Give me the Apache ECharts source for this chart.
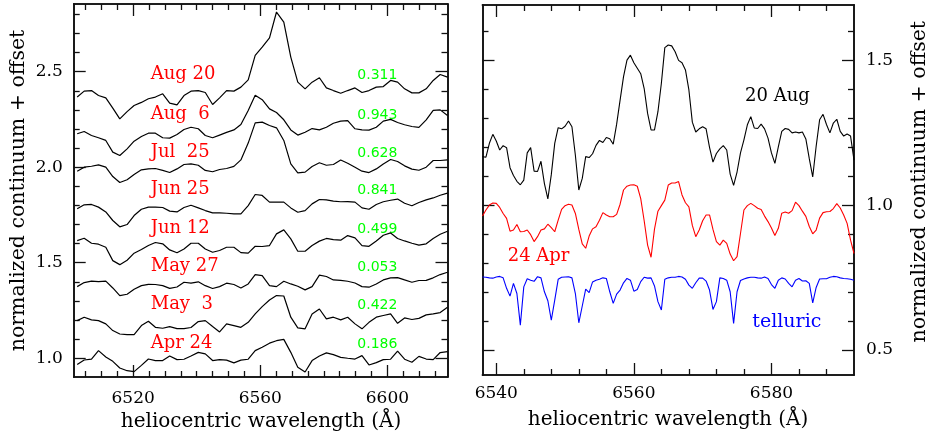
<!DOCTYPE html>
<html>
<head>
<meta charset="utf-8">
<script src="https://cdn.jsdelivr.net/npm/echarts@6/dist/echarts.min.js"></script>
<style>
html, body { margin: 0; padding: 0; background: #fff; }
#chart { width: 928px; height: 438px; }
</style>
</head>
<body>
<div id="chart"></div>
<script>
// ---- Left panel: H-alpha profiles by date (continuum + offset) ----
const leftWave = [
  6502.4, 6504.6, 6506.9, 6509.1, 6511.4, 6513.6, 6515.8, 6518.1, 6520.3, 6522.6,
  6524.8, 6527.0, 6529.3, 6531.5, 6533.8, 6536.0, 6538.2, 6540.5, 6542.7, 6545.0,
  6547.2, 6549.4, 6551.7, 6553.9, 6556.2, 6558.4, 6560.6, 6562.9, 6565.1, 6567.4,
  6569.6, 6571.8, 6574.1, 6576.3, 6578.6, 6580.8, 6583.0, 6585.3, 6587.5, 6589.8,
  6592.0, 6594.2, 6596.5, 6598.7, 6601.0, 6603.2, 6605.4, 6607.7, 6609.9, 6612.2,
  6614.4, 6616.6, 6618.9
];
const aug20 = [
  2.367, 2.398, 2.401, 2.375, 2.363, 2.309, 2.253, 2.291, 2.323, 2.339,
  2.358, 2.367, 2.384, 2.335, 2.326, 2.375, 2.398, 2.401, 2.391, 2.328,
  2.363, 2.401, 2.398, 2.419, 2.457, 2.585, 2.628, 2.677, 2.812, 2.759,
  2.576, 2.445, 2.410, 2.445, 2.468, 2.415, 2.401, 2.387, 2.401, 2.415,
  2.391, 2.401, 2.419, 2.422, 2.454, 2.445, 2.410, 2.389, 2.389, 2.410,
  2.454, 2.485, 2.471
];
const aug6 = [
  2.175, 2.187, 2.166, 2.154, 2.140, 2.079, 2.061, 2.096, 2.136, 2.161,
  2.178, 2.178, 2.154, 2.152, 2.171, 2.197, 2.209, 2.201, 2.166, 2.154,
  2.168, 2.182, 2.195, 2.223, 2.297, 2.377, 2.353, 2.305, 2.286, 2.248,
  2.195, 2.168, 2.183, 2.202, 2.195, 2.209, 2.230, 2.241, 2.244, 2.201,
  2.195, 2.194, 2.209, 2.241, 2.250, 2.234, 2.222, 2.213, 2.208, 2.248,
  2.297, 2.300, 2.271
];
const jul25 = [
  1.979, 2.000, 2.005, 2.012, 2.000, 1.951, 1.920, 1.934, 1.962, 1.986,
  1.991, 1.993, 1.983, 1.972, 1.991, 2.014, 2.017, 2.010, 1.983, 1.976,
  1.988, 1.993, 2.004, 2.038, 2.126, 2.232, 2.236, 2.218, 2.206, 2.140,
  2.017, 1.970, 1.974, 2.004, 2.023, 2.010, 2.014, 2.038, 2.021, 2.000,
  1.979, 1.972, 1.991, 2.017, 2.040, 2.030, 2.007, 1.990, 1.984, 2.000,
  2.035, 2.035, 2.038
];
const jun25 = [
  1.782, 1.803, 1.805, 1.791, 1.766, 1.721, 1.688, 1.700, 1.747, 1.780,
  1.791, 1.791, 1.789, 1.770, 1.766, 1.789, 1.801, 1.787, 1.773, 1.761,
  1.761, 1.759, 1.756, 1.756, 1.799, 1.857, 1.852, 1.817, 1.817, 1.817,
  1.787, 1.764, 1.773, 1.808, 1.831, 1.829, 1.822, 1.819, 1.820, 1.817,
  1.787, 1.780, 1.805, 1.819, 1.827, 1.833, 1.811, 1.798, 1.815, 1.829,
  1.839, 1.853, 1.864
];
const jun12 = [
  1.616, 1.628, 1.602, 1.597, 1.581, 1.511, 1.490, 1.513, 1.550, 1.569,
  1.590, 1.606, 1.599, 1.567, 1.552, 1.572, 1.602, 1.602, 1.572, 1.555,
  1.564, 1.581, 1.581, 1.553, 1.550, 1.586, 1.585, 1.590, 1.651, 1.672,
  1.625, 1.560, 1.560, 1.590, 1.613, 1.627, 1.621, 1.618, 1.642, 1.630,
  1.590, 1.586, 1.614, 1.644, 1.656, 1.627, 1.614, 1.602, 1.592, 1.599,
  1.627, 1.649, 1.665
];
const may27 = [
  1.375, 1.396, 1.404, 1.401, 1.404, 1.368, 1.328, 1.335, 1.361, 1.380,
  1.387, 1.386, 1.380, 1.366, 1.373, 1.398, 1.393, 1.400, 1.380, 1.365,
  1.375, 1.393, 1.386, 1.368, 1.389, 1.438, 1.433, 1.380, 1.375, 1.403,
  1.389, 1.377, 1.358, 1.375, 1.435, 1.428, 1.410, 1.408, 1.403, 1.394,
  1.375, 1.372, 1.389, 1.410, 1.421, 1.422, 1.410, 1.398, 1.407, 1.408,
  1.421, 1.438, 1.450
];
const may3 = [
  1.197, 1.215, 1.201, 1.197, 1.180, 1.145, 1.127, 1.124, 1.124, 1.171,
  1.194, 1.162, 1.157, 1.166, 1.155, 1.155, 1.161, 1.192, 1.197, 1.166,
  1.138, 1.180, 1.171, 1.162, 1.188, 1.232, 1.270, 1.305, 1.328, 1.326,
  1.215, 1.159, 1.154, 1.232, 1.258, 1.206, 1.215, 1.201, 1.215, 1.180,
  1.154, 1.188, 1.215, 1.224, 1.232, 1.183, 1.211, 1.203, 1.209, 1.227,
  1.232, 1.239, 1.267
];
const apr24 = [
  0.967, 0.991, 0.996, 1.040, 1.007, 0.984, 0.949, 0.935, 0.930, 0.963,
  0.996, 0.988, 0.988, 1.012, 0.993, 0.995, 1.012, 1.031, 1.023, 0.988,
  0.993, 0.990, 0.976, 0.990, 0.995, 1.040, 1.058, 1.079, 1.092, 1.099,
  1.031, 0.953, 0.928, 0.988, 1.012, 1.028, 1.019, 1.005, 1.000, 0.996,
  1.014, 0.965, 0.977, 0.993, 0.995, 1.037, 0.995, 0.979, 1.010, 0.996,
  0.993, 1.030, 1.035
];
const leftSeries = [aug20, aug6, jul25, jun25, jun12, may27, may3, apr24];
const dateLabels = ['Aug 20', 'Aug  6', 'Jul  25', 'Jun 25', 'Jun 12', 'May 27', 'May  3', 'Apr 24'];
const phaseLabels = ['0.311', '0.943', '0.628', '0.841', '0.499', '0.053', '0.422', '0.186'];

// ---- Right panel: high-resolution spectra ----
const rightWave = [
  6538.0, 6538.5, 6539.0, 6539.5, 6540.0, 6540.5, 6541.0, 6541.5, 6542.0, 6542.5,
  6543.0, 6543.5, 6544.0, 6544.5, 6545.0, 6545.5, 6546.0, 6546.5, 6547.0, 6547.5,
  6548.0, 6548.5, 6549.0, 6549.5, 6550.0, 6550.5, 6551.0, 6551.5, 6552.0, 6552.5,
  6553.0, 6553.5, 6554.0, 6554.5, 6555.0, 6555.5, 6556.0, 6556.5, 6557.0, 6557.5,
  6558.0, 6558.5, 6559.0, 6559.5, 6560.0, 6560.5, 6561.0, 6561.5, 6562.0, 6562.5,
  6563.0, 6563.5, 6564.0, 6564.5, 6565.0, 6565.5, 6566.0, 6566.5, 6567.0, 6567.5,
  6568.0, 6568.5, 6569.0, 6569.5, 6570.0, 6570.5, 6571.0, 6571.5, 6572.0, 6572.5,
  6573.0, 6573.5, 6574.0, 6574.5, 6575.0, 6575.5, 6576.0, 6576.5, 6577.0, 6577.5,
  6578.0, 6578.5, 6579.0, 6579.5, 6580.0, 6580.5, 6581.0, 6581.5, 6582.0, 6582.5,
  6583.0, 6583.5, 6584.0, 6584.5, 6585.0, 6585.5, 6586.0, 6586.5, 6587.0, 6587.5,
  6588.0, 6588.5, 6589.0, 6589.5, 6590.0, 6590.5, 6591.0, 6591.5, 6592.0
];
const spec20Aug = [
  1.167, 1.165, 1.213, 1.244, 1.221, 1.190, 1.205, 1.198, 1.129, 1.102,
  1.082, 1.070, 1.086, 1.180, 1.198, 1.117, 1.116, 1.151, 1.074, 1.021,
  1.105, 1.213, 1.267, 1.263, 1.272, 1.290, 1.270, 1.172, 1.052, 1.092,
  1.167, 1.164, 1.177, 1.206, 1.223, 1.216, 1.233, 1.229, 1.210, 1.279,
  1.362, 1.443, 1.500, 1.517, 1.491, 1.472, 1.453, 1.402, 1.316, 1.259,
  1.259, 1.322, 1.420, 1.543, 1.552, 1.549, 1.529, 1.499, 1.491, 1.466,
  1.397, 1.286, 1.252, 1.263, 1.270, 1.263, 1.199, 1.148, 1.178, 1.194,
  1.205, 1.190, 1.107, 1.068, 1.114, 1.180, 1.225, 1.277, 1.305, 1.266,
  1.264, 1.279, 1.263, 1.231, 1.180, 1.144, 1.201, 1.254, 1.264, 1.261,
  1.249, 1.252, 1.249, 1.252, 1.228, 1.160, 1.097, 1.203, 1.294, 1.313,
  1.278, 1.249, 1.283, 1.296, 1.254, 1.238, 1.245, 1.238, 1.155
];
const spec24Apr = [
  0.962, 0.983, 1.000, 1.007, 1.006, 0.992, 0.971, 0.954, 0.910, 0.914,
  0.933, 0.908, 0.909, 0.914, 0.898, 0.874, 0.891, 0.914, 0.918, 0.934,
  0.922, 0.908, 0.948, 0.985, 0.998, 1.003, 1.000, 0.971, 0.916, 0.866,
  0.851, 0.893, 0.918, 0.925, 0.948, 0.974, 0.966, 0.960, 0.960, 0.968,
  1.003, 1.052, 1.065, 1.069, 1.070, 1.065, 1.022, 0.946, 0.862, 0.820,
  0.917, 0.979, 0.998, 1.017, 1.069, 1.076, 1.076, 1.081, 1.035, 1.008,
  0.994, 0.930, 0.891, 0.914, 0.946, 0.966, 0.966, 0.916, 0.874, 0.862,
  0.879, 0.868, 0.831, 0.808, 0.822, 0.902, 0.983, 0.998, 1.006, 0.998,
  0.989, 0.985, 0.962, 0.943, 0.921, 0.895, 0.920, 0.972, 0.976, 0.972,
  0.981, 1.010, 0.998, 0.979, 0.961, 0.926, 0.901, 0.914, 0.955, 0.974,
  0.977, 0.978, 0.988, 1.005, 0.990, 0.966, 0.937, 0.879, 0.833
];
const telluric = [
  0.752, 0.751, 0.749, 0.748, 0.752, 0.754, 0.749, 0.713, 0.686, 0.730,
  0.695, 0.586, 0.718, 0.746, 0.741, 0.737, 0.753, 0.749, 0.701, 0.670,
  0.603, 0.672, 0.744, 0.751, 0.752, 0.753, 0.749, 0.695, 0.594, 0.652,
  0.710, 0.698, 0.735, 0.741, 0.744, 0.749, 0.747, 0.701, 0.661, 0.693,
  0.707, 0.732, 0.747, 0.741, 0.703, 0.709, 0.736, 0.751, 0.748, 0.749,
  0.721, 0.667, 0.638, 0.744, 0.749, 0.751, 0.751, 0.754, 0.752, 0.744,
  0.724, 0.713, 0.732, 0.748, 0.748, 0.738, 0.707, 0.640, 0.667, 0.749,
  0.747, 0.741, 0.701, 0.592, 0.701, 0.740, 0.745, 0.749, 0.751, 0.751,
  0.749, 0.748, 0.752, 0.747, 0.726, 0.713, 0.741, 0.749, 0.745, 0.730,
  0.718, 0.741, 0.747, 0.738, 0.739, 0.730, 0.663, 0.716, 0.745, 0.746,
  0.746, 0.751, 0.754, 0.753, 0.749, 0.747, 0.746, 0.744, 0.741
];

// ---- Tick values ----
const leftXMajor = [6520, 6560, 6600];
const leftXMinor = [6505, 6510, 6515, 6525, 6530, 6535, 6540, 6545, 6550, 6555,
                    6565, 6570, 6575, 6580, 6585, 6590, 6595, 6605, 6610, 6615];
const leftYMajor = [1.0, 1.5, 2.0, 2.5];
const leftYMinor = [1.1, 1.2, 1.3, 1.4, 1.6, 1.7, 1.8, 1.9, 2.1, 2.2, 2.3, 2.4, 2.6, 2.7, 2.8];
const rightXMajor = [6540, 6560, 6580];
const rightXMinor = [6544, 6548, 6552, 6556, 6564, 6568, 6572, 6576, 6584, 6588];
const rightYMajor = [0.5, 1.0, 1.5];
const rightYMinor = [0.6, 0.7, 0.8, 0.9, 1.1, 1.2, 1.3, 1.4, 1.6];

const SERIF = '"DejaVu Serif", "Liberation Serif", serif';
const SANS = '"DejaVu Sans", "Liberation Sans", sans-serif';

// One framed axis pair (both sides) for a grid; ticks point inward.
function axisPair(sides, gridIndex, range, ticks, tickLen, labelSide, margin, fmt) {
  return sides.map(side => ({
    type: 'value', gridIndex, min: range[0], max: range[1], position: side,
    axisLine: { show: true, onZero: false, lineStyle: { color: '#111', width: 1.6 } },
    axisTick: { show: true, inside: true, length: tickLen, customValues: ticks,
                lineStyle: { color: '#111', width: 1.3 } },
    axisLabel: side === labelSide ? {
      show: true, customValues: ticks, margin, formatter: fmt,
      color: '#000', fontFamily: SERIF, fontSize: 17
    } : { show: false },
    splitLine: { show: false },
    minorTick: { show: false },
    minorSplitLine: { show: false }
  }));
}

const fmtX = v => String(Math.round(v));
const fmtY = v => v.toFixed(1);

const LX = [6501.3, 6618.9], LY = [0.902, 2.854];
const RX = [6538.0, 6592.0], RY = [0.414, 1.690];

const leftRect = { left: 73.7, top: 4, width: 373.8, height: 373 };
const rightRect = { left: 482.5, top: 5, width: 371.5, height: 370 };

// grids 0/1: left panel (major, minor); grids 2/3: right panel (major, minor)
const grid = [leftRect, leftRect, rightRect, rightRect].map(r => Object.assign({}, r));

const xAxis = [
  ...axisPair(['bottom', 'top'], 0, LX, leftXMajor, 12, 'bottom', 13, fmtX),
  ...axisPair(['bottom', 'top'], 1, LX, leftXMinor, 6, null, 0, fmtX),
  ...axisPair(['bottom', 'top'], 2, RX, rightXMajor, 12, 'bottom', 10, fmtX),
  ...axisPair(['bottom', 'top'], 3, RX, rightXMinor, 6, null, 0, fmtX)
];
const yAxis = [
  ...axisPair(['left', 'right'], 0, LY, leftYMajor, 12, 'left', 11, fmtY),
  ...axisPair(['left', 'right'], 1, LY, leftYMinor, 6, null, 0, fmtY),
  ...axisPair(['left', 'right'], 2, RY, rightYMajor, 12, 'right', 12, fmtY),
  ...axisPair(['left', 'right'], 3, RY, rightYMinor, 6, null, 0, fmtY)
];

function pairs(xs, ys) { return xs.map((x, i) => [x, ys[i]]); }

const series = [];
leftSeries.forEach((vals, i) => {
  series.push({
    type: 'line', name: dateLabels[i], xAxisIndex: 0, yAxisIndex: 0,
    data: pairs(leftWave, vals), showSymbol: false, symbol: 'none',
    lineStyle: { color: '#000', width: 1.2 }, clip: true, silent: true
  });
});
[[spec20Aug, '#000'], [spec24Apr, '#ff0000'], [telluric, '#0000ff']].forEach(([vals, color]) => {
  series.push({
    type: 'line', xAxisIndex: 4, yAxisIndex: 4,
    data: pairs(rightWave, vals), showSymbol: false, symbol: 'none',
    lineStyle: { color, width: 1.1 }, clip: true, silent: true
  });
});

// Text annotations
const labelBaselines = [80, 119.3, 157.3, 195, 233.3, 271.7, 310, 348.3];
const graphic = [];
dateLabels.forEach((t, i) => {
  graphic.push({ type: 'text', x: 150.7, y: labelBaselines[i] - 5.4, silent: true,
    style: { text: t, fill: '#ff0000', font: '18px ' + SERIF, align: 'left', verticalAlign: 'middle' } });
  graphic.push({ type: 'text', x: 357.3, y: labelBaselines[i] - 4.3, silent: true,
    style: { text: phaseLabels[i], fill: '#00ff00', font: '14px ' + SANS, align: 'left', verticalAlign: 'middle' } });
});
graphic.push(
  { type: 'text', x: 745, y: 96.3, silent: true,
    style: { text: '20 Aug', fill: '#000', font: '18px ' + SERIF, align: 'left', verticalAlign: 'middle' } },
  { type: 'text', x: 507.7, y: 256.6, silent: true,
    style: { text: '24 Apr', fill: '#ff0000', font: '18px ' + SERIF, align: 'left', verticalAlign: 'middle' } },
  { type: 'text', x: 752.3, y: 321.9, silent: true,
    style: { text: 'telluric', fill: '#0000ff', font: '19px ' + SERIF, align: 'left', verticalAlign: 'middle' } },
  { type: 'text', x: 261, y: 421.5, silent: true,
    style: { text: 'heliocentric wavelength (\u00c5)', fill: '#000', font: '20px ' + SERIF, align: 'center', verticalAlign: 'middle' } },
  { type: 'text', x: 668, y: 419.5, silent: true,
    style: { text: 'heliocentric wavelength (\u00c5)', fill: '#000', font: '20px ' + SERIF, align: 'center', verticalAlign: 'middle' } },
  { type: 'text', x: 18.5, y: 190.5, rotation: Math.PI / 2, silent: true,
    style: { text: 'normalized continuum + offset', fill: '#000', font: '20.5px ' + SERIF, align: 'center', verticalAlign: 'middle' } },
  { type: 'text', x: 919.5, y: 181.7, rotation: Math.PI / 2, silent: true,
    style: { text: 'normalized continuum + offset', fill: '#000', font: '20.5px ' + SERIF, align: 'center', verticalAlign: 'middle' } }
);

const chart = echarts.init(document.getElementById('chart'), null, { renderer: 'canvas' });
chart.setOption({
  animation: false,
  backgroundColor: '#fff',
  grid, xAxis, yAxis, series, graphic
});
</script>
</body>
</html>
